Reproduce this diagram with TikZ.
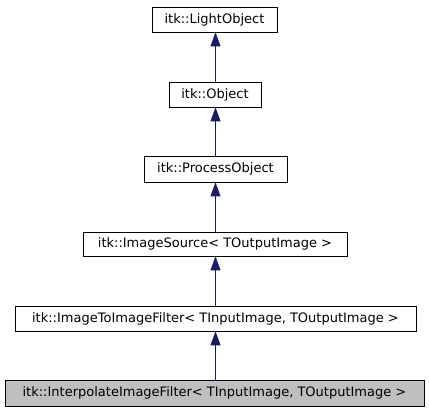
\documentclass[tikz,border=0pt]{standalone}
\usepackage{fontspec}
\setmainfont{DejaVu Sans}
\usetikzlibrary{arrows.meta}
\definecolor{midnight}{HTML}{191970}
\tikzset{
    % Classes
    class box/.style={draw=black,fill=white,line width=.8pt,inner sep=0pt,minimum height=25pt,font=\fontsize{13}{15}\selectfont},
    this class/.style={class box,fill=black!25},
    %
    % Arrows
    inherit tip/.tip={Triangle[width=10pt,length=14pt]},
    inherit/.style={midnight,line width=.8pt,-{inherit tip}}
}

\begin{document}
\begin{tikzpicture}[x=1pt,y=-1pt]
        \useasboundingbox (0,0) rectangle (429,411);
        \node[class box,minimum width=125pt] (lightobject) at (214.5,19.5) {itk::LightObject};
        \node[class box,minimum width=92pt] (object) at (215,94.5) {itk::Object};
        \node[class box,minimum width=143pt,minimum height=26pt] (processobject) at (215.5,169) {itk::ProcessObject};
        \node[class box,minimum width=264pt,minimum height=24pt] (imagesource) at (215,244) {itk::ImageSource< TOutputImage >};
        \node[class box,minimum width=401pt] (imagetoimage) at (215.5,318.5) {itk::ImageToImageFilter< TInputImage, TOutputImage >};
        \node[this class,minimum width=419pt,minimum height=26pt] (interpolate) at (214.5,393) {itk::InterpolateImageFilter< TInputImage, TOutputImage >};
        \foreach \child/\parent in {object/lightobject,processobject/object,imagesource/processobject,imagetoimage/imagesource,interpolate/imagetoimage}{
            \draw[inherit] (\child.north -| 215.5,0) -- (\parent.south -| 215.5,0);
        }
    \end{tikzpicture}
\end{document}
